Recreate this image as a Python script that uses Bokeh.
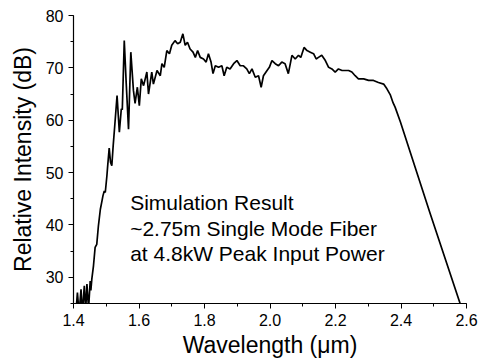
from bokeh.plotting import figure
from bokeh.models import Label, Range1d, SingleIntervalTicker
from bokeh.embed import file_html
from bokeh.resources import INLINE

# Wavelength (um) and relative intensity (dB)
wavelength = [
    1.400, 1.407, 1.412, 1.417, 1.423, 1.427, 1.433, 1.437, 1.441, 1.446,
    1.451, 1.453, 1.456, 1.461, 1.466, 1.471, 1.476, 1.482, 1.487, 1.490,
    1.494, 1.497, 1.500, 1.502, 1.504, 1.509, 1.513, 1.517, 1.521, 1.526,
    1.533, 1.540, 1.546, 1.549, 1.555, 1.561, 1.568, 1.575, 1.583, 1.588,
    1.595, 1.601, 1.607, 1.614, 1.624, 1.629, 1.639, 1.644, 1.655, 1.665,
    1.670, 1.677, 1.685, 1.693, 1.700, 1.710, 1.718, 1.726, 1.734, 1.741,
    1.748, 1.756, 1.765, 1.772, 1.779, 1.787, 1.797, 1.805, 1.812, 1.820,
    1.826, 1.833, 1.843, 1.853, 1.860, 1.868, 1.878, 1.889, 1.899, 1.909,
    1.919, 1.929, 1.937, 1.945, 1.955, 1.965, 1.973, 1.980, 1.991, 1.998,
    2.006, 2.016, 2.026, 2.036, 2.046, 2.056, 2.067, 2.077, 2.087, 2.094,
    2.104, 2.113, 2.123, 2.133, 2.141, 2.148, 2.158, 2.169, 2.179, 2.189,
    2.199, 2.209, 2.220, 2.230, 2.240, 2.250, 2.260, 2.270, 2.286, 2.301,
    2.316, 2.331, 2.347, 2.357, 2.367, 2.376, 2.382, 2.398, 2.489, 2.581,
]
intensity = [
    24.0, 23.0, 27.1, 23.0, 27.7, 23.0, 28.4, 23.5, 28.7, 24.0,
    29.3, 27.5, 29.7, 32.2, 35.7, 36.3, 39.8, 43.0, 44.6, 45.6,
    46.5, 46.2, 48.1, 49.4, 51.0, 54.7, 52.0, 51.3, 55.0, 59.0,
    64.7, 57.7, 62.2, 62.0, 75.2, 67.0, 58.3, 73.0, 65.7, 63.2,
    66.3, 62.8, 67.9, 66.6, 69.2, 65.0, 69.2, 66.9, 69.5, 68.5,
    70.8, 70.1, 73.3, 72.7, 74.3, 75.2, 74.6, 74.9, 76.5, 74.3,
    74.9, 73.6, 73.0, 72.0, 73.3, 72.0, 71.7, 71.1, 72.7, 71.1,
    68.9, 70.4, 70.1, 70.4, 68.5, 70.1, 69.8, 70.8, 71.4, 70.4,
    70.4, 69.8, 68.9, 69.8, 68.2, 68.5, 66.3, 68.5, 69.5, 70.1,
    71.4, 70.8, 70.4, 71.1, 70.8, 68.9, 72.4, 71.7, 72.4, 72.0,
    73.9, 73.3, 73.0, 72.7, 71.7, 72.0, 72.4, 71.4, 70.1, 69.8,
    69.2, 69.8, 69.5, 69.5, 69.5, 69.2, 68.5, 67.9, 67.9, 67.6,
    67.6, 67.2, 66.9, 66.0, 64.9, 63.3, 62.5, 59.7, 42.2, 24.9,
]

x_tick_step = 0.2
y_tick_step = 10
x_tick_labels = {1.4: "1.4", 1.6: "1.6", 1.8: "1.8", 2.0: "2.0",
                 2.2: "2.2", 2.4: "2.4", 2.6: "2.6"}
note_lines = ["Simulation Result", "~2.75m Single Mode Fiber", "at 4.8kW Peak Input Power"]
note_x = 1.573
note_y = [44.2, 39.4, 34.5]

FONT = "Liberation Sans"

p = figure(width=479, height=361, output_backend="svg", toolbar_location=None,
           x_range=Range1d(1.4, 2.6), y_range=Range1d(25, 80),
           min_border_left=73, min_border_right=13, min_border_top=15,
           min_border_bottom=58)
p.outline_line_color = None
p.grid.visible = False
p.background_fill_color = "white"
p.border_fill_color = "white"

p.line(wavelength, intensity, line_color="black", line_width=1.7)

p.xaxis[0].ticker = SingleIntervalTicker(interval=x_tick_step, num_minor_ticks=2)
p.yaxis[0].ticker = SingleIntervalTicker(interval=y_tick_step, num_minor_ticks=2)

for ax in (p.xaxis[0], p.yaxis[0]):
    ax.axis_line_color = "black"
    ax.axis_line_width = 1.2
    ax.major_tick_line_color = "black"
    ax.minor_tick_line_color = "black"
    ax.major_tick_in = 0
    ax.major_tick_out = 5
    ax.minor_tick_in = 0
    ax.minor_tick_out = 3
    ax.major_label_text_font = FONT
    ax.major_label_text_font_size = "16px"
    ax.major_label_text_color = "black"
    ax.axis_label_text_font = FONT
    ax.axis_label_text_font_size = "23px"
    ax.axis_label_text_font_style = "normal"
    ax.axis_label_text_color = "black"

p.xaxis.axis_label = "Wavelength (\u03bcm)"
p.yaxis.axis_label = "Relative Intensity (dB)"
p.xaxis.axis_label_standoff = 3
p.yaxis.axis_label_standoff = 7
p.xaxis.major_label_standoff = 5
p.yaxis.major_label_standoff = 5
p.xaxis.major_label_overrides = x_tick_labels

for txt, yy in zip(note_lines, note_y):
    p.add_layout(Label(x=note_x, y=yy, text=txt, text_font=FONT,
                       text_font_size="21px", text_color="black",
                       text_baseline="alphabetic"))

open("out.html", "w").write(file_html(p, INLINE))
